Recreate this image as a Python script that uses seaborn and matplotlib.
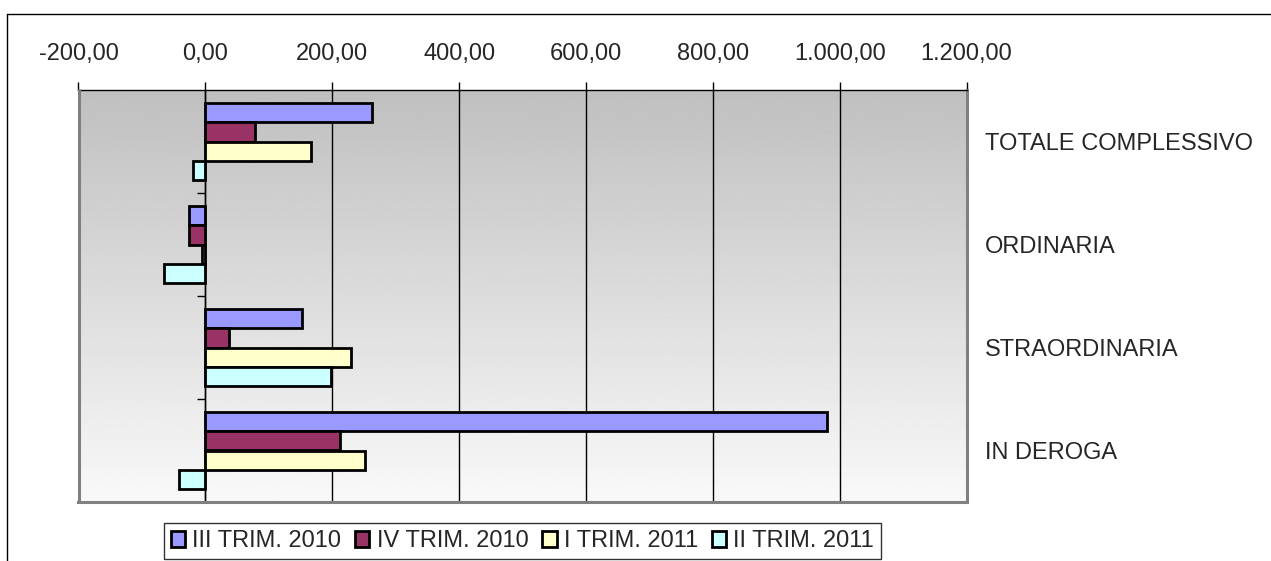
import numpy as np
import pandas as pd
import matplotlib
matplotlib.use("Agg")
import matplotlib.pyplot as plt
from matplotlib.lines import Line2D
import seaborn as sns

categorie = ["TOTALE COMPLESSIVO", "ORDINARIA", "STRAORDINARIA", "IN DEROGA"]
periodi = ["III TRIM. 2010", "IV TRIM. 2010", "I TRIM. 2011", "II TRIM. 2011"]
colori = ["#9999FF", "#993366", "#FFFFCC", "#CCFFFF"]

# variazioni per periodo, nell'ordine delle categorie
iii_trim_2010 = [262, -25, 152, 980]
iv_trim_2010 = [78, -26, 38, 213]
i_trim_2011 = [167, -6, 229, 251]
ii_trim_2011 = [-20, -65, 198, -42]

x_ticks = [-200, 0, 200, 400, 600, 800, 1000, 1200]

df = pd.DataFrame({
    "categoria": categorie * 4,
    "periodo": np.repeat(periodi, 4),
    "valore": iii_trim_2010 + iv_trim_2010 + i_trim_2011 + ii_trim_2011,
})

sns.set_theme(style="white")
plt.rcParams["font.family"] = ["Liberation Sans", "DejaVu Sans"]

W, H = 1271, 561
fig = plt.figure(figsize=(W / 100, H / 100), dpi=100)
ax = fig.add_axes([78.5 / W, 1 - 502 / H, 888 / W, 412 / H])

# sfondo sfumato dell'area del grafico
grad = np.linspace(0.75, 0.975, 256).reshape(-1, 1)
ax.imshow(grad, cmap="gray", vmin=0, vmax=1, aspect="auto",
          extent=[0, 1, 0, 1], transform=ax.transAxes, zorder=-2,
          origin="upper")

sns.barplot(data=df, y="categoria", x="valore", hue="periodo",
            order=categorie, hue_order=periodi, palette=colori,
            orient="h", width=0.74, edgecolor="black", linewidth=2.0,
            saturation=1, ax=ax)

ax.set_xlim(-200, 1200)
ax.set_ylim(3.5, -0.5)
ax.set_xlabel("")
ax.set_ylabel("")

# asse x in alto
ax.xaxis.tick_top()
ax.set_xticks(x_ticks)
ax.set_xticklabels([f"{v:,.2f}".replace(",", "X").replace(".", ",").replace("X", ".")
                    for v in x_ticks])
ax.tick_params(axis="x", which="major", direction="out", length=6, width=1,
               color="black", labelsize=17, pad=12, top=True, bottom=False)
ax.grid(axis="x", color="black", linewidth=1)
ax.grid(axis="y", visible=False)
ax.set_axisbelow(True)

# asse verticale sullo zero, etichette a destra
ax.spines["left"].set_position(("data", 0))
ax.spines["left"].set_color("black")
ax.spines["left"].set_linewidth(1)
ax.spines["top"].set_color("black")
ax.spines["top"].set_linewidth(1)
for s in ["right", "bottom"]:
    ax.spines[s].set_color("#808080")
    ax.spines[s].set_linewidth(2.2)
ax.plot([0, 0], [0, 1], transform=ax.transAxes, color="#808080",
        linewidth=2.2, clip_on=False, zorder=5)

ax.yaxis.set_ticks_position("both")
ax.set_yticks(range(len(categorie)))
ax.set_yticklabels(categorie)
ax.set_yticks([0.5, 1.5, 2.5], minor=True)
ax.tick_params(axis="y", which="major", left=False, right=False,
               labelleft=False, labelright=True, labelsize=17, pad=13,
               length=0)
ax.tick_params(axis="y", which="minor", left=True, right=False,
               direction="out", length=6, width=1, color="black")
for lab in ax.get_yticklabels():
    lab.set_horizontalalignment("left")

# legenda in basso
handles, labels = ax.get_legend_handles_labels()
ax.get_legend().remove()
leg = fig.legend(handles, labels, loc="upper center",
                 bbox_to_anchor=(522.5 / W, 1 - 523 / H), ncol=4,
                 frameon=True, fancybox=False, edgecolor="black",
                 fontsize=17, handlelength=0.6, handleheight=0.7,
                 handletextpad=0.3, columnspacing=0.6, borderpad=0.3,
                 borderaxespad=0)
leg.get_frame().set_linewidth(1)
for h in leg.legend_handles:
    h.set_edgecolor("black")
    h.set_linewidth(2)

# bordo esterno del grafico
fig.add_artist(Line2D([7 / W, 1], [1 - 14 / H, 1 - 14 / H],
                      transform=fig.transFigure, color="black", linewidth=1))
fig.add_artist(Line2D([7 / W, 7 / W], [0, 1 - 14 / H],
                      transform=fig.transFigure, color="black", linewidth=1))

fig.savefig("out.png", dpi=100)
